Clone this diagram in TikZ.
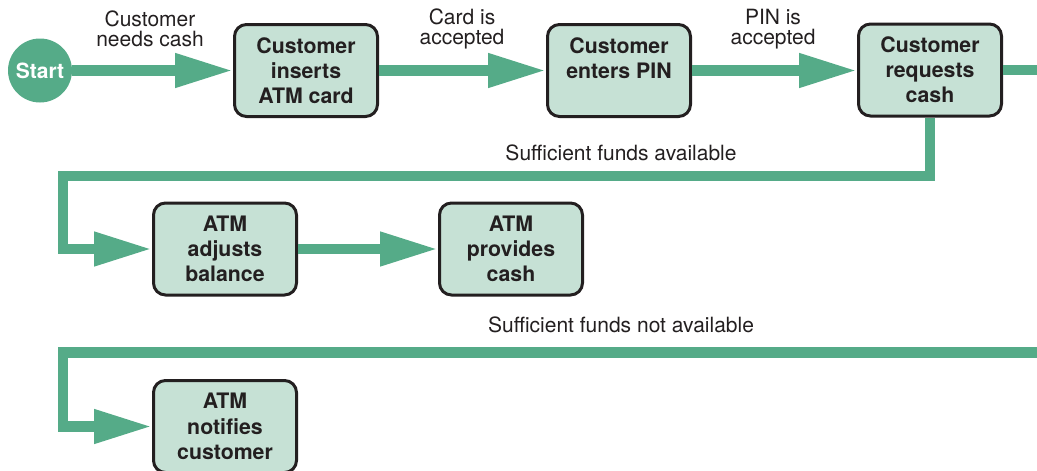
\documentclass[tikz,border=0pt]{standalone}
\usepackage{fontspec}
\setmainfont{TeX Gyre Heros}
\usetikzlibrary{arrows.meta}
\definecolor{flowgreen}{HTML}{55AB88}
\definecolor{boxfill}{HTML}{C6E1D5}
\definecolor{ink}{HTML}{231F20}
\tikzset{
  stepbox/.style={draw=ink, line width=3pt, fill=boxfill, rounded corners=12pt,
    minimum width=143pt, minimum height=92pt, inner sep=0pt, align=center,
    text=ink, font=\fontsize{21.3}{25.2}\selectfont\bfseries},
  startnode/.style={circle, fill=flowgreen, minimum size=64pt, inner sep=0pt,
    text=white, font=\fontsize{21}{25}\selectfont\bfseries},
  flow/.style={draw=flowgreen, line width=10.5pt, line join=miter,
    -{Triangle[length=58pt,width=32pt]}},
  flowline/.style={draw=flowgreen, line width=10.5pt, line join=miter},
  lbl/.style={align=center, text=ink, inner sep=0pt, font=\fontsize{21}{20}\selectfont}
}
\begin{document}
\begin{tikzpicture}[x=1pt,y=-1pt]
\useasboundingbox (0,0) rectangle (1037,471);
\node[startnode] (start) at (40,70.5) {Start};
\node[stepbox] (b1) at (306,70.5) {Customer\\inserts\\ATM card};
\node[stepbox] (b2) at (619,70.5) {Customer\\enters PIN\\\mbox{}};
\node[stepbox] (b3) at (930,70) {Customer\\requests\\cash};
\node[stepbox] (b4) at (225,249) {ATM\\adjusts\\balance};
\node[stepbox] (b5) at (511,249) {ATM\\provides\\cash};
\node[stepbox] (b6) at (225,426.5) {ATM\\notifies\\customer};

\coordinate (r1) at (1045,70);
\coordinate (c2) at (63,176);
\coordinate (r2) at (1045,352.5);
\coordinate (c3) at (63,352.5);

\draw[flow] (start.east) -- (b1.west);
\draw[flow] (b1.east) -- (b2.west);
\draw[flow] (b2.east) -- (b3.west |- b2.east);
\draw[flowline] (b3.east) -- (r1);
\draw[flow] (b3.south) |- (c2) |- (b4.west);
\draw[flow] (b4.east) -- (b5.west);
\draw[flow] (r2) -- (c3) |- (b6.west);

\node[lbl] (l1) at (150,29) {Customer\\needs cash};
\node[lbl] (l2) at (462,29) {Card is\\accepted};
\node[lbl] (l3) at (773,29) {PIN is\\accepted};
\node[lbl] (l4) at (621,153) {Sufficient funds available};
\node[lbl] (l5) at (621,325) {Sufficient funds not available};
\end{tikzpicture}
\end{document}
